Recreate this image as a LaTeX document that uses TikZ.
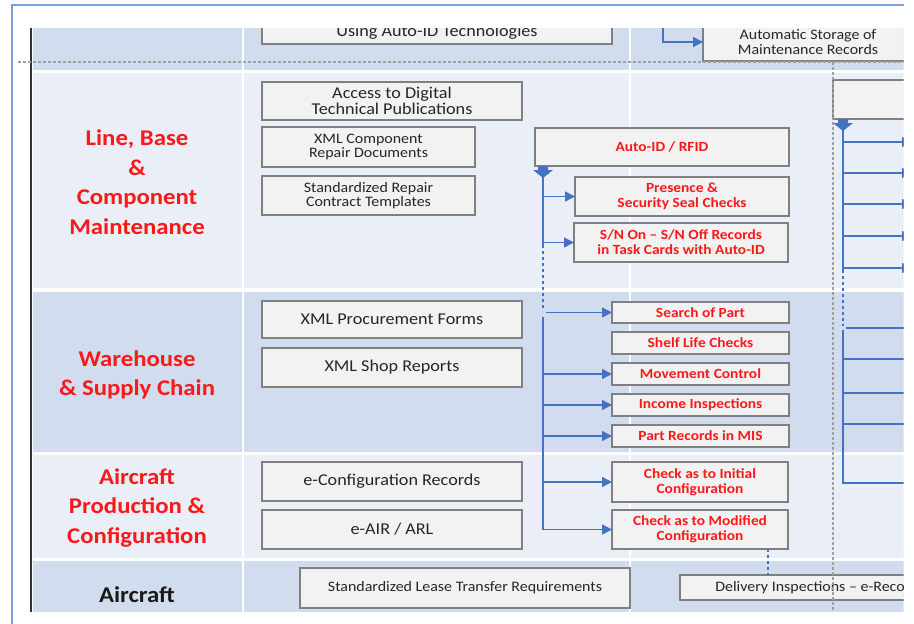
\documentclass[tikz,border=0pt]{standalone}
\usepackage{fontspec}
\setmainfont{Carlito}[FakeStretch=1.1]
\usetikzlibrary{arrows.meta}
\definecolor{laneD}{RGB}{209,220,239}
\definecolor{laneL}{RGB}{233,238,247}
\definecolor{boxF}{RGB}{242,242,242}
\definecolor{boxD}{RGB}{128,128,128}
\definecolor{flow}{RGB}{68,114,196}
\definecolor{frameB}{RGB}{125,155,225}
\definecolor{txtR}{RGB}{250,25,25}
\definecolor{txtK}{RGB}{38,38,38}
\definecolor{guide}{RGB}{160,160,160}
\newcommand\mkbox[7]{\node[#6, minimum width={(#4-#2)*1pt}, minimum height={(#5-#3)*1pt}] (#1) at ({(#2+#4)/2},{(#3+#5)/2}) {#7};}
\begin{document}
\begin{tikzpicture}[x=1pt,y=-1pt,
  box/.style={draw=boxD, fill=boxF, line width=1.3pt, inner sep=0pt, outer sep=0pt, align=center, text=txtK},
  bigtxt/.style={box, font=\fontsize{16.5}{15.5}\selectfont},
  smalltxt/.style={box, font=\fontsize{14.5}{14.5}\selectfont},
  redtxt/.style={box, text=txtR, font=\fontsize{14}{15}\selectfont\bfseries},
  lanelabel/.style={align=center, text=txtR, font=\fontsize{22.5}{29.6}\selectfont\bfseries, inner sep=0pt},
  flowline/.style={draw=flow, line width=1.5pt},
  arr/.style={flowline, -{Triangle[length=10pt,width=10pt]}},
  flowdash/.style={flowline, dash pattern=on 3pt off 3pt},
  guideline/.style={draw=guide, line width=1.2pt, dash pattern=on 2.5pt off 2.5pt},
  blockdown/.pic={\fill[flow] (-5,0) -- (5,0) -- (5,4) -- (10,4) -- (0,12) -- (-10,4) -- (-5,4) -- cycle;}
]
\useasboundingbox (0,0) rectangle (914,624);
\begin{scope}
\clip (0,28.5) rectangle (903.5,624);
% lanes
\fill[laneD] (33,28) rectangle (903.5,70);
\fill[laneL] (33,73) rectangle (903.5,288);
\fill[laneD] (33,292) rectangle (903.5,452);
\fill[laneL] (33,455) rectangle (903.5,558);
\fill[laneD] (33,561) rectangle (903.5,612);
\draw[white, line width=2.5pt] (243,28) -- (243,612);
\draw[white, line width=2pt] (629.5,28) -- (629.5,612);
\draw[black!80, line width=2.5pt] (31,28) -- (31,612);

% lane labels
\node[lanelabel] (lbl1) at (137,182) {Line, Base\\\&\\Component\\Maintenance};
\node[lanelabel] (lbl2) at (137,375) {Warehouse\\\& Supply Chain};
\node[lanelabel] (lbl3) at (137,508) {Aircraft\\Production \&\\Configuration};
\node[lanelabel, text=black!90] (lbl4) at (137,595) {Aircraft};

% boxes
\mkbox{using}{262}{20}{612}{44}{bigtxt}{Using Auto-ID Technologies}
\mkbox{autostore}{703}{23}{913}{61}{smalltxt}{Automatic Storage of\\Maintenance Records}
\draw[guideline] (18,62) -- (903.5,62);
\mkbox{topright}{833}{80}{960}{119}{box}{}
\mkbox{access}{262}{82}{522}{120}{bigtxt}{Access to Digital\\Technical Publications}
\mkbox{xmlcomp}{262}{127}{475}{167}{smalltxt}{XML Component\\Repair Documents}
\mkbox{stdrepair}{262}{176}{475}{215}{smalltxt}{Standardized Repair\\Contract Templates}
\mkbox{autoid}{535}{128}{789}{166}{redtxt}{Auto-ID / RFID}
\mkbox{presence}{575}{177}{789}{216}{redtxt}{Presence \&\\Security Seal Checks}
\mkbox{snon}{574}{223}{788}{262}{redtxt}{S/N On -- S/N Off Records\\in Task Cards with Auto-ID}
\mkbox{xmlproc}{262}{301}{522}{338}{bigtxt}{XML Procurement Forms}
\mkbox{xmlshop}{262}{348}{522}{387}{bigtxt}{XML Shop Reports}
\mkbox{search}{612}{302}{789}{323}{redtxt}{Search of Part}
\mkbox{shelf}{612}{332}{789}{354}{redtxt}{Shelf Life Checks}
\mkbox{movement}{612}{363}{789}{385}{redtxt}{Movement Control}
\mkbox{income}{612}{394}{789}{416}{redtxt}{Income Inspections}
\mkbox{partrec}{612}{425}{789}{447}{redtxt}{Part Records in MIS}
\mkbox{econf}{262}{462}{522}{501}{bigtxt}{e-Configuration Records}
\mkbox{eair}{262}{510}{522}{549}{bigtxt}{e-AIR / ARL}
\mkbox{initial}{612}{462}{788}{502}{redtxt}{Check as to Initial\\Configuration}
\mkbox{modified}{612}{510}{788}{549}{redtxt}{Check as to Modified\\Configuration}
\mkbox{lease}{300}{568}{630}{608}{smalltxt}{Standardized Lease Transfer Requirements}
\mkbox{delivery}{680}{575}{960}{600}{smalltxt}{Delivery Inspections -- e-Records}

% top arrow into Automatic Storage
\coordinate (ta) at (663,20);
\draw[arr] (ta) |- (autostore.west);

% trunk 1 (Auto-ID)
\coordinate (t1) at (543,0);
\pic at (t1 |- autoid.south) {blockdown};
\coordinate (t1a) at (543,177);
\coordinate (t1b) at (543,245);
\coordinate (t1c) at (543,311);
\coordinate (t1d) at (543,317);
\coordinate (t1e) at (543,529.5);
\draw[flowline] (t1a) -- (t1b);
\draw[flowdash] (t1b) -- (t1c);
\draw[flowline] (t1d) -- (t1e);
\draw[arr] (t1 |- presence.west) -- (presence.west);
\draw[arr] (t1 |- snon.west) -- (snon.west);
\draw[arr] ([xshift=3pt]t1 |- search.west) -- (search.west);
\draw[arr] (t1 |- movement.west) -- (movement.west);
\draw[arr] (t1 |- income.west) -- (income.west);
\draw[arr] (t1 |- partrec.west) -- (partrec.west);
\draw[arr] (t1 |- initial.west) -- (initial.west);
\draw[arr] (t1e) -- (modified.west);

% trunk 2 (right)
\coordinate (t2) at (843,0);
\pic at (t2 |- topright.south) {blockdown};
\coordinate (t2a) at (843,130);
\coordinate (t2b) at (843,270);
\coordinate (t2c) at (843,326);
\coordinate (t2d) at (843,330);
\coordinate (t2e) at (843,483);
\draw[flowline] (t2a) -- (t2b);
\draw[flowdash] (t2b) -- (t2c);
\foreach \yy [count=\i] in {142,173,204,236,268} {
  \coordinate (r\i) at (912,\yy);
  \draw[arr] (t2 |- r\i) -- (r\i);
}
\coordinate (s0) at (912,328);
\coordinate (s1) at (912,359);
\coordinate (s2) at (912,393);
\coordinate (s3) at (912,424);
\coordinate (s4) at (912,483);
\draw[flowline] ([xshift=3pt]t2 |- s0) -- (s0);
\draw[flowline] (t2d) -- (t2e) -- (s4);
\draw[flowline] (t2 |- s1) -- (s1);
\draw[flowline] (t2 |- s2) -- (s2);
\draw[flowline] (t2 |- s3) -- (s3);

% modified -> delivery
\coordinate (dl) at (768,0);
\draw[flowdash] (dl |- modified.south) -- (dl |- delivery.north);

% gray dotted guide
\coordinate (g1) at (833,62);
\coordinate (g2) at (833,612);
\draw[guideline] (g1) -- (g2);
\end{scope}
% outer frame
\draw[frameB, line width=2pt] (12,624) -- (12,5) -- (904,5);
\end{tikzpicture}
\end{document}
